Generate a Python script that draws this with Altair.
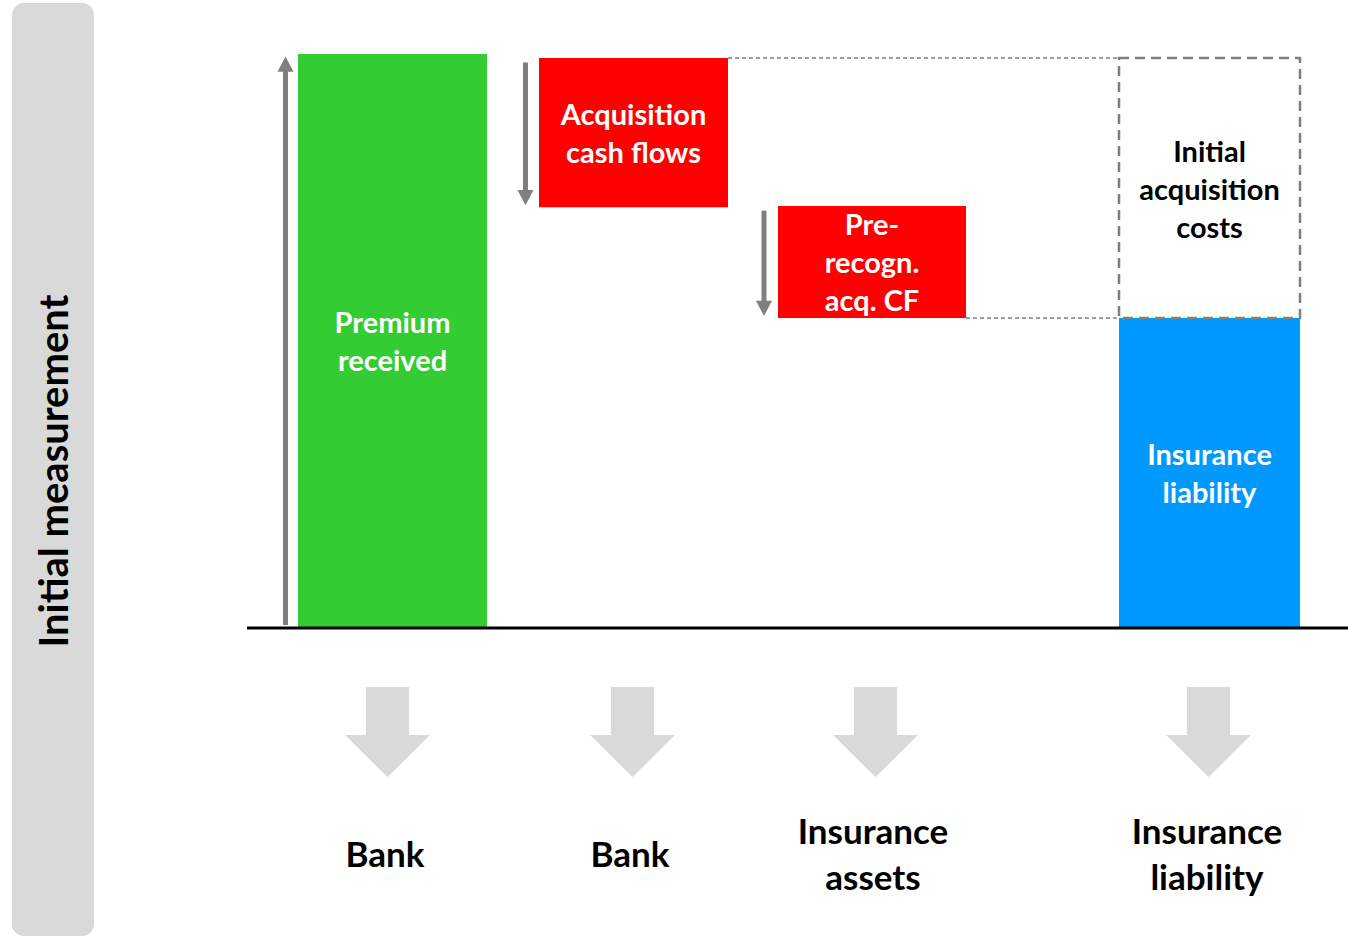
import altair as alt
import pandas as pd

# ---------------- data ----------------
bar_labels = ["Premium\nreceived", "Acquisition\ncash flows", "Pre-\nrecogn.\nacq. CF", "Insurance\nliability"]
bar_start = [0.0, 99.3, 73.5, 0.0]
bar_end = [100.0, 73.3, 54.0, 54.0]
bar_colors = ["#33CC33", "#FF0000", "#FF0000", "#0099FF"]
box_label = "Initial\nacquisition\ncosts"
bottom_labels = ["Bank", "Bank", "Insurance\nassets", "Insurance\nliability"]
side_title = "Initial measurement"

# ---------------- layout (pixels) ----------------
W, H = 1348, 936
col_center = [392.5, 633.5, 872.0, 1209.5]
col_width = [189, 189, 188, 181]
arrow_x = [285.5, 525.5, 764.0]
flow_arrow_x = [387.5, 632.5, 875.5, 1208.5]
label_x = [385, 630, 873, 1207]
FONT = "Lato"

xs = alt.Scale(domain=[0, W], range=[0, W], nice=False, zero=False)
ys = alt.Scale(domain=[-53.659, 109.408], nice=False, zero=False)


def X(f):
    return alt.X(f, type="quantitative", scale=xs, axis=None)


def Y(f):
    return alt.Y(f, type="quantitative", scale=ys, axis=None)


def multiline_text(df, lh, y_enc, shift=0, **kw):
    """One text layer per line count so that each block is vertically centred."""
    df = df.copy()
    df["n"] = df["t"].str.count("\n") + 1
    layers = []
    for n in sorted(df["n"].unique()):
        sub = df[df["n"] == n]
        layers.append(
            alt.Chart(sub).mark_text(
                font=FONT, fontWeight="bold", lineHeight=lh, lineBreak="\n",
                align="center", baseline="middle",
                dy=-(n - 1) * lh / 2 + shift, **kw
            ).encode(x=X("x"), y=y_enc, text="t:N")
        )
    return layers


bars = pd.DataFrame({
    "t": bar_labels,
    "start": bar_start,
    "end": bar_end,
    "color": bar_colors,
    "xl": [c - w / 2 for c, w in zip(col_center, col_width)],
    "xr": [c + w / 2 for c, w in zip(col_center, col_width)],
    "x": col_center,
})
bars["mid"] = (bars["start"] + bars["end"]) / 2

# background band
band = alt.Chart(pd.DataFrame({"a": [0]})).mark_rect(
    color="#D9D9D9", cornerRadius=12
).encode(x=alt.value(12), x2=alt.value(94), y=alt.value(3), y2=alt.value(936))

side = alt.Chart(pd.DataFrame({"t": [side_title]})).mark_text(
    font=FONT, fontWeight="bold", fontSize=40, angle=270, align="center",
    baseline="middle", color="black"
).encode(x=alt.value(56), y=alt.value(471), text="t:N")

bar_layer = alt.Chart(bars).mark_rect().encode(
    x=X("xl"), x2=alt.X2("xr"), y=Y("start"), y2=alt.Y2("end"),
    color=alt.Color("color:N", scale=None),
)

bar_text = multiline_text(bars[["x", "mid", "t"]], 38, Y("mid"), shift=2,
                          fontSize=29, color="white")

# dashed box for initial acquisition costs
box_df = pd.DataFrame({
    "xl": [bars.loc[3, "xl"]], "xr": [bars.loc[3, "xr"]],
    "lo": [bar_end[3]], "hi": [bar_start[1]], "t": [box_label],
})
box_df["mid"] = (box_df["lo"] + box_df["hi"]) / 2
box_df["x"] = (box_df["xl"] + box_df["xr"]) / 2

box = alt.Chart(box_df).mark_rect(
    fillOpacity=0, stroke="#7F7F7F", strokeWidth=2.5, strokeDash=[10, 6]
).encode(x=X("xl"), x2=alt.X2("xr"), y=Y("lo"), y2=alt.Y2("hi"))

box_text = multiline_text(box_df[["x", "mid", "t"]], 38, Y("mid"), shift=3,
                          fontSize=29, color="black")

# thin connector lines
conn_df = pd.DataFrame({
    "x1": [bars.loc[1, "xr"], bars.loc[2, "xr"]],
    "x2": [bars.loc[3, "xl"], bars.loc[3, "xl"]],
    "y": [bar_start[1], bar_end[2]],
})
conn = alt.Chart(conn_df).mark_rule(
    color="#404040", strokeWidth=1, strokeDash=[4, 3]
).encode(x=X("x1"), x2=alt.X2("x2"), y=Y("y"))

# baseline
base = alt.Chart(pd.DataFrame({"y": [0.0]})).mark_rule(
    color="black", strokeWidth=3
).encode(x=alt.value(247), x2=alt.value(W), y=Y("y"))

# gray arrows
up_df = pd.DataFrame({"x": [arrow_x[0]], "s": [bar_start[0]], "e": [bar_end[0]]})
down_df = pd.DataFrame({"x": arrow_x[1:], "s": bar_start[1:3], "e": bar_end[1:3]})
GRAY = "#7F7F7F"
up_line = alt.Chart(up_df).mark_rule(
    color=GRAY, strokeWidth=5, yOffset=-3, y2Offset=12
).encode(x=X("x"), y=Y("s"), y2=alt.Y2("e"))
up_head = alt.Chart(up_df).mark_point(
    shape="M 0 0 L 1 1.9 L -1 1.9 Z", size=256, filled=True, opacity=1,
    color=GRAY, strokeWidth=0, yOffset=2.5
).encode(x=X("x"), y=Y("e"))
down_line = alt.Chart(down_df).mark_rule(
    color=GRAY, strokeWidth=5, yOffset=4.5, y2Offset=-10
).encode(x=X("x"), y=Y("s"), y2=alt.Y2("e"))
down_head = alt.Chart(down_df).mark_point(
    shape="M 0 0 L 1 -1.9 L -1 -1.9 Z", size=256, filled=True, opacity=1,
    color=GRAY, strokeWidth=0, yOffset=-2
).encode(x=X("x"), y=Y("e"))

# big flow arrows and bottom labels
flow_df = pd.DataFrame({"x": flow_arrow_x})
flow = alt.Chart(flow_df).mark_point(
    shape="M -0.48 -1 L 0.48 -1 L 0.48 0.067 L 0.944 0.067 L 0 1 L -0.944 0.067 L -0.48 0.067 Z",
    size=8100, filled=True, opacity=1, color="#D9D9D9", strokeWidth=0
).encode(x=X("x"), y=alt.value(732))

bot_df = pd.DataFrame({"x": label_x, "t": bottom_labels})
bot = multiline_text(bot_df, 46, alt.value(856), fontSize=35, color="black")

chart = alt.layer(
    band, side, bar_layer, box, conn, base, up_line, up_head, down_line,
    down_head, *bar_text, *box_text, flow, *bot
).properties(
    width=W, height=H, padding=0, autosize=alt.AutoSizeParams(type="none"),
    background="white"
).configure_view(stroke=None)

chart.save("out.html", embed_options={"renderer": "svg", "actions": False})
